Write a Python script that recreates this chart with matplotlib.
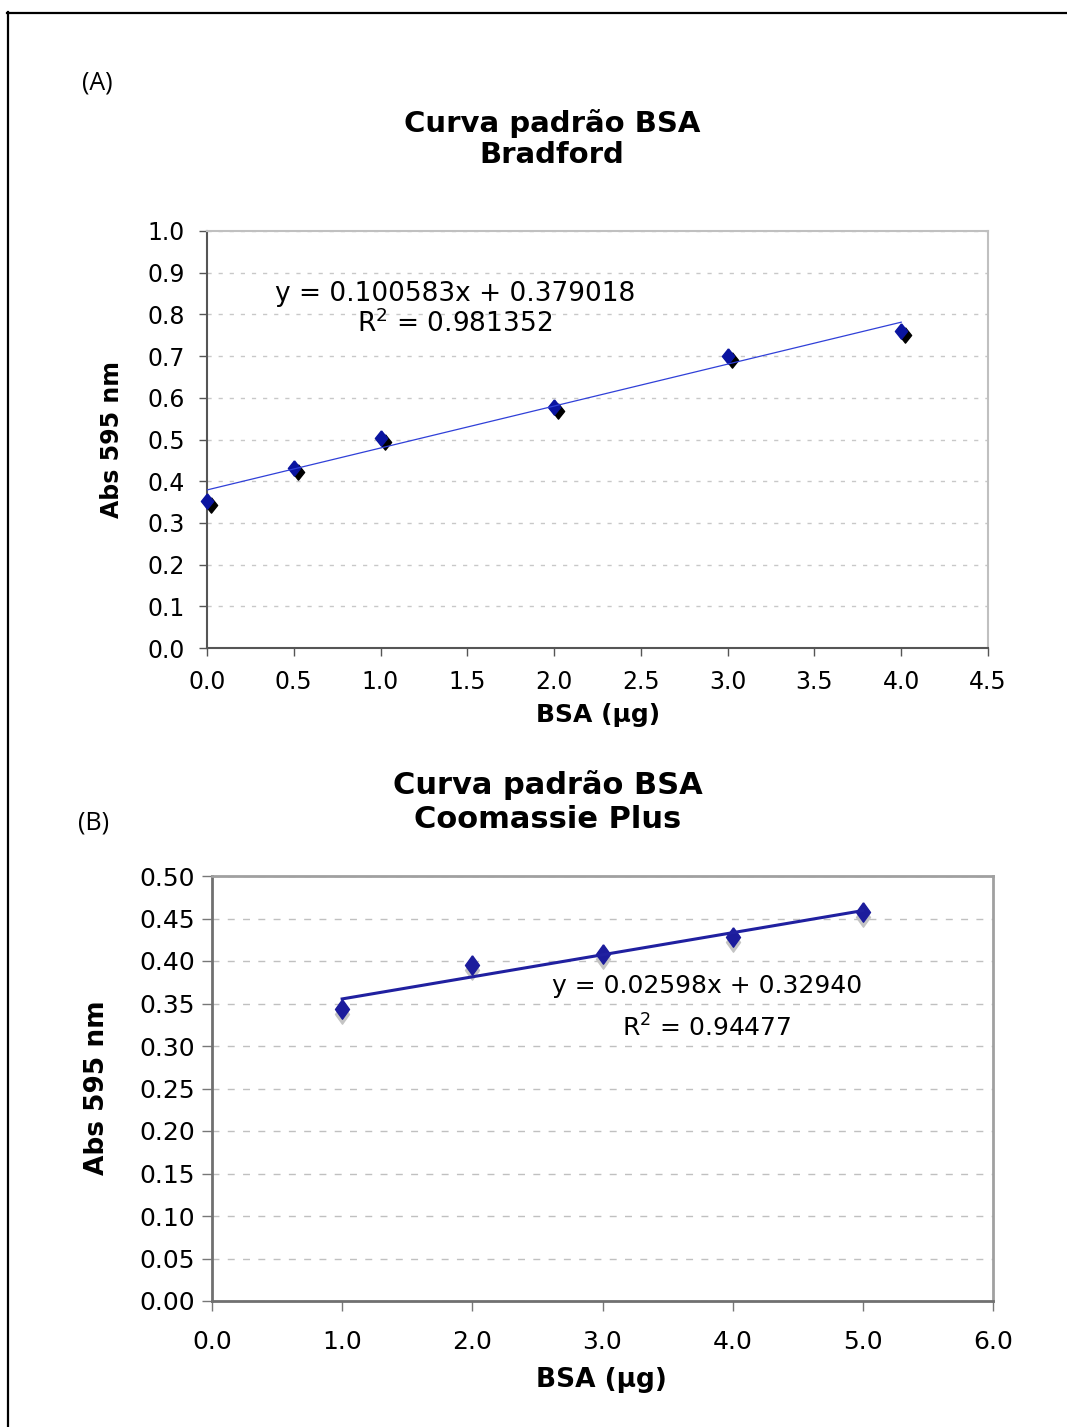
import numpy as np
import matplotlib
matplotlib.use("Agg")
import matplotlib.pyplot as plt
from matplotlib.lines import Line2D
from matplotlib.transforms import offset_copy

# ---------------- data ----------------
bradford_x = [0.0, 0.5, 1.0, 2.0, 3.0, 4.0]
bradford_y = [0.352, 0.432, 0.504, 0.578, 0.700, 0.760]
bradford_slope = 0.100583
bradford_intercept = 0.379018
bradford_r2 = 0.981352
bradford_xticks = [0.0, 0.5, 1.0, 1.5, 2.0, 2.5, 3.0, 3.5, 4.0, 4.5]
bradford_yticks = [0.0, 0.1, 0.2, 0.3, 0.4, 0.5, 0.6, 0.7, 0.8, 0.9, 1.0]

coomassie_x = [1.0, 2.0, 3.0, 4.0, 5.0]
coomassie_y = [0.3435, 0.395, 0.408, 0.428, 0.458]
coomassie_slope = 0.02598
coomassie_intercept = 0.32940
coomassie_r2 = 0.94477
coomassie_xticks = [0.0, 1.0, 2.0, 3.0, 4.0, 5.0, 6.0]
coomassie_yticks = [0.00, 0.05, 0.10, 0.15, 0.20, 0.25, 0.30, 0.35, 0.40, 0.45, 0.50]

title_a = "Curva padrão BSA\nBradford"
title_b = "Curva padrão BSA\nCoomassie Plus"
xlabel = "BSA (µg)"
ylabel = "Abs 595 nm"

# ---------------- figure ----------------
W, H = 1067, 1427
DPI = 100
fig = plt.figure(figsize=(W / DPI, H / DPI), dpi=DPI)
plt.rcParams['font.family'] = ['DejaVu Sans']

def fx(px):
    return px / W

def fy(py):
    return 1 - py / H

# outer border
fig.add_artist(Line2D([fx(7), 1.0], [fy(12.5), fy(12.5)], color='black', lw=1.6,
                      transform=fig.transFigure))
fig.add_artist(Line2D([fx(7.5), fx(7.5)], [fy(12), 0.0], color='black', lw=1.6,
                      transform=fig.transFigure))

diamond = [(0, 1), (0.8, 0), (0, -1), (-0.8, 0), (0, 1)]

# ---------------- panel A ----------------
axA = fig.add_axes([fx(207), fy(648), (988 - 207) / W, (648 - 231) / H])
axA.set_xlim(0, 4.5)
axA.set_ylim(0, 1.0)
axA.set_xticks(bradford_xticks)
axA.set_yticks(bradford_yticks)
axA.set_xticklabels([f"{v:.1f}" for v in bradford_xticks])
axA.set_yticklabels([f"{v:.1f}" for v in bradford_yticks])
axA.tick_params(axis='both', direction='out', length=6, width=1, color='#555555',
                labelsize=17)
axA.tick_params(axis='x', pad=10)
axA.tick_params(axis='y', pad=10)
axA.grid(axis='y', color='#c8c8c8', linestyle=(0, (3, 5)), lw=1)
axA.set_axisbelow(True)
for s in ['left', 'bottom']:
    axA.spines[s].set_color('#555555')
    axA.spines[s].set_linewidth(1.5)
for s in ['top', 'right']:
    axA.spines[s].set_color('#c0c0c0')
    axA.spines[s].set_linewidth(1.5)

shadowA = offset_copy(axA.transData, fig=fig, x=4, y=-4, units='dots')
axA.plot(bradford_x, bradford_y, linestyle='none', marker=diamond, markersize=11,
         color='black', transform=shadowA, zorder=3, clip_on=False)
axA.plot(bradford_x, bradford_y, linestyle='none', marker=diamond, markersize=11,
         color='#0a14a0', markeredgecolor='#0a14a0', zorder=4, clip_on=False)
lx = np.array([bradford_x[0], bradford_x[-1]])
axA.plot(lx, bradford_slope * lx + bradford_intercept, color='#3040d8', lw=0.9, zorder=5)

fig.text(fx(455), fy(294), f"y = {bradford_slope:.6f}x + {bradford_intercept:.6f}",
         ha='center', va='center', fontsize=19)
fig.text(fx(455), fy(324), f"R$^2$ = {bradford_r2:.6f}", ha='center', va='center',
         fontsize=19)

fig.text(fx(552), fy(139), title_a, ha='center', va='center', fontsize=21,
         fontweight='bold', linespacing=1.15)
fig.text(fx(97), fy(83), "(A)", ha='center', va='center', fontsize=18,
         family='Open Sans')
fig.text(fx(598), fy(715), xlabel, ha='center', va='center', fontsize=18,
         fontweight='bold')
fig.text(fx(112), fy(439), ylabel, ha='center', va='center', fontsize=17,
         fontweight='bold', rotation=90)

# ---------------- panel B ----------------
axB = fig.add_axes([fx(212), fy(1301), (993 - 212) / W, (1301 - 876) / H])
axB.set_xlim(0, 6)
axB.set_ylim(0, 0.5)
axB.set_xticks(coomassie_xticks)
axB.set_yticks(coomassie_yticks)
axB.set_xticklabels([f"{v:.1f}" for v in coomassie_xticks])
axB.set_yticklabels([f"{v:.2f}" for v in coomassie_yticks])
axB.tick_params(axis='both', direction='out', length=7, width=1, color='#777777',
                labelsize=18)
axB.tick_params(axis='x', pad=14)
axB.tick_params(axis='y', pad=5)
axB.grid(axis='y', color='#c0c0c0', linestyle=(0, (5, 6)), lw=1)
axB.set_axisbelow(True)
for s in ['left', 'bottom']:
    axB.spines[s].set_color('#707070')
    axB.spines[s].set_linewidth(2)
for s in ['top', 'right']:
    axB.spines[s].set_color('#a0a0a0')
    axB.spines[s].set_linewidth(2)

shadowB = offset_copy(axB.transData, fig=fig, x=0, y=-5, units='dots')
diamondB = [(0, 1), (0.72, 0), (0, -1), (-0.72, 0), (0, 1)]
axB.plot(coomassie_x, coomassie_y, linestyle='none', marker=diamondB, markersize=14,
         color='#c4c4c4', transform=shadowB, zorder=3)
axB.plot(coomassie_x, coomassie_y, linestyle='none', marker=diamondB, markersize=14,
         color='#1c1c9c', zorder=4)
lxb = np.array([coomassie_x[0], coomassie_x[-1]])
axB.plot(lxb, coomassie_slope * lxb + coomassie_intercept, color='#2020a0', lw=2.2,
         zorder=5)

fig.text(fx(707), fy(986), f"y = {coomassie_slope:.5f}x + {coomassie_intercept:.5f}",
         ha='center', va='center', fontsize=18)
fig.text(fx(707), fy(1028), f"R$^2$ = {coomassie_r2:.5f}", ha='center', va='center',
         fontsize=18)

fig.text(fx(548), fy(802), title_b, ha='center', va='center', fontsize=22,
         fontweight='bold', linespacing=1.2)
fig.text(fx(94), fy(823), "(B)", ha='center', va='center', fontsize=18,
         family='Open Sans')
fig.text(fx(601), fy(1380), xlabel, ha='center', va='center', fontsize=19,
         fontweight='bold')
fig.text(fx(97), fy(1088), ylabel, ha='center', va='center', fontsize=19,
         fontweight='bold', rotation=90)

fig.savefig("out.png", dpi=DPI, facecolor='white')
